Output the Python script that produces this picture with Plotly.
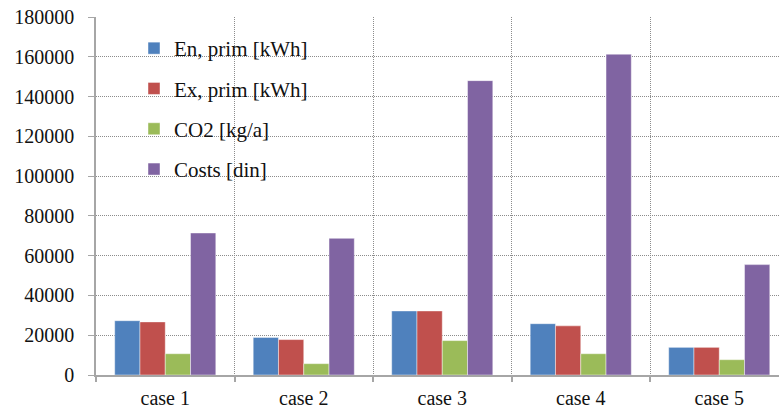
import plotly.graph_objects as go

categories = ["case 1", "case 2", "case 3", "case 4", "case 5"]
en_prim = [27300, 18900, 32200, 25800, 13900]
ex_prim = [26700, 17800, 32200, 24700, 13900]
co2 = [10700, 5700, 17300, 10700, 7700]
costs = [71400, 68700, 148000, 161300, 55500]

series_names = ["En, prim [kWh]", "Ex, prim [kWh]", "CO2 [kg/a]", "Costs [din]"]
series_values = [en_prim, ex_prim, co2, costs]
colors = ["#4F81BD", "#C0504D", "#9BBB59", "#8064A2"]

W, H = 779, 409
ML, MR, MT, MB = 96, 0, 17, 34
pw = W - ML - MR
ph = H - MT - MB

fig = go.Figure()
for i, (name, vals, col) in enumerate(zip(series_names, series_values, colors)):
    fig.add_trace(go.Bar(
        x=categories, y=vals, name=name, legendgroup=name,
        marker=dict(color=col, line=dict(color="rgba(255,255,255,0.55)", width=0.8)),
    ))

def px_x(x):
    return (x - ML) / pw

def px_y(y):
    return 1 - (y - MT) / ph

fig.add_shape(type="rect", xref="paper", yref="paper",
              x0=px_x(112), x1=px_x(355), y0=px_y(192), y1=px_y(25),
              fillcolor="white", line=dict(width=0), layer="between")

serif = "Liberation Serif, Times New Roman, serif"
grid_dash = "1px,1px"
fig.update_layout(
    width=W, height=H,
    margin=dict(l=ML, r=MR, t=MT, b=MB, pad=0, autoexpand=False),
    paper_bgcolor="white", plot_bgcolor="white",
    barmode="group", bargap=0.27, bargroupgap=0,
    font=dict(family=serif, size=20, color="#111111"),
    showlegend=True,
    legend=dict(
        x=px_x(134), y=px_y(28), xanchor="left", yanchor="top",
        bgcolor="rgba(0,0,0,0)", borderwidth=0,
        font=dict(family=serif, size=21, color="#111111"),
        traceorder="grouped", tracegroupgap=10,
    ),
    xaxis=dict(
        range=[-0.5, 4.5 - 9.5 / 138.5],
        automargin=False,
        showline=True, linecolor="#a6a6a6", linewidth=2,
        ticks="outside", ticklen=5, tickcolor="#a6a6a6", tickwidth=1.5,
        tickson="boundaries",
        showgrid=True, gridcolor="#8c8c8c", griddash=grid_dash, gridwidth=1,
        tickfont=dict(family=serif, size=20, color="#111111"),
        ticklabelstandoff=4,
        zeroline=False,
    ),
    yaxis=dict(
        range=[0, 180000], tickmode="linear", tick0=0, dtick=20000,
        automargin=False,
        showline=True, linecolor="#a6a6a6", linewidth=1.5,
        ticks="outside", ticklen=6, tickcolor="#a6a6a6", tickwidth=1,
        showgrid=True, gridcolor="#8c8c8c", griddash=grid_dash, gridwidth=1,
        tickfont=dict(family=serif, size=20, color="#111111"),
        ticklabelstandoff=10,
        zeroline=False,
        tickformat="d",
    ),
)

fig.write_html("out.html")
